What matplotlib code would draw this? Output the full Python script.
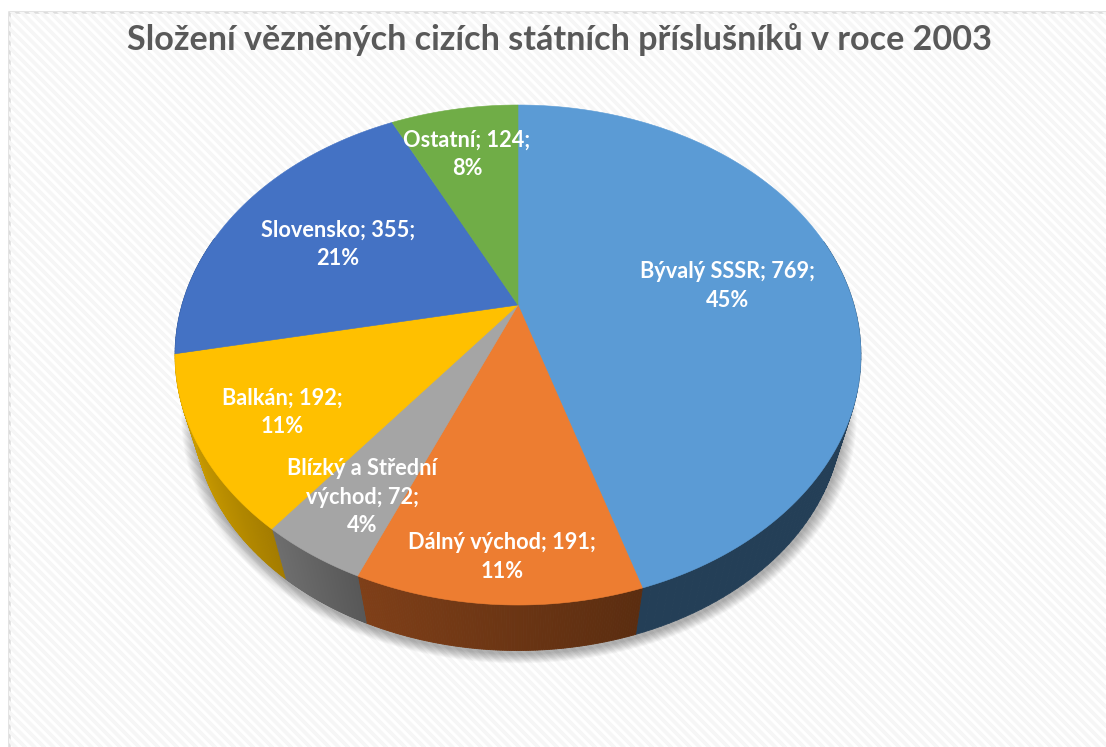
import numpy as np
import matplotlib
matplotlib.use("Agg")
import matplotlib.pyplot as plt
from matplotlib.collections import LineCollection, PolyCollection
from matplotlib.colors import to_rgb
from matplotlib.patches import Polygon, Rectangle

TITLE = "Složení vězněných cizích státních příslušníků v roce 2003"
categories = ["Bývalý SSSR", "Dálný východ", "Blízký a Střední\nvýchod", "Balkán", "Slovensko", "Ostatní"]
values = [769, 191, 72, 192, 355, 124]
percents = [45, 11, 4, 11, 21, 8]

top_colors = ["#5b9bd5", "#ed7d31", "#a5a5a5", "#ffc000", "#4472c4", "#70ad47"]
side_left = ["#243f57", "#7f3f18", "#6e6e6e", "#cb9c00", "#2a4a80", "#46702c"]
side_right = ["#243f57", "#5b2d10", "#585858", "#a47c00", "#2a4a80", "#46702c"]

# label centres in pixels
label_pos = [(728, 286), (502, 557), (362, 497), (282, 412), (338, 244), (467, 154)]

# pie geometry in pixels, perspective view of a circle
APEX_X, APEX_Y = 518, 305
RX, RY, K = 336, 240, 0.2
DEPTH_Y, DEPTH_S = 367, 0.945


def project(theta):
    # theta runs clockwise from twelve o'clock
    u, v = np.sin(theta), np.cos(theta)
    d = 1 + K * v
    return APEX_X + RX * u / d, APEX_Y - RY * v / d


def lower(x, y):
    return APEX_X + DEPTH_S * (x - APEX_X), DEPTH_Y + DEPTH_S * (y - APEX_Y)


fig = plt.figure(figsize=(11.06, 7.47), dpi=100)
ax = fig.add_axes([0, 0, 1, 1])
ax.set_xlim(0, 1106)
ax.set_ylim(747, 0)
ax.axis("off")

# striped chart area with thin border
frame = Rectangle((8.5, 12), 1110, 750, fc="white", ec="#dcdcdc", lw=1.8, zorder=1)
ax.add_patch(frame)
offsets = np.arange(-760, 1110, 9.5)
stripes = LineCollection([[(o, 0), (o + 750, 750)] for o in offsets],
                         colors="#f6f6f6", linewidths=2.6, zorder=1.1)
ax.add_collection(stripes)
stripes.set_clip_path(frame)

total = sum(values)
edges = 2 * np.pi * np.concatenate([[0], np.cumsum(values)]) / total
circle = np.linspace(0, 2 * np.pi, 721)

# soft shadow under the rim
cx, cy = project(circle)
bx, by = lower(cx, cy)
for i in range(14):
    grow = 1 + (14 - i) * 0.0030
    sx = APEX_X + grow * (bx - APEX_X) + 1
    sy = 417 + grow * (by - 417) + 3
    ax.add_patch(Polygon(np.c_[sx, sy], fc="black", ec="none", alpha=0.024, zorder=2))

# rim, only the front part is seen
for i in range(len(values)):
    th = np.linspace(edges[i], edges[i + 1], 120)
    th = th[(th > np.pi / 2 - 0.3) & (th < 3 * np.pi / 2 + 0.3)]
    if len(th) < 2:
        continue
    x, y = project(th)
    xb, yb = lower(x, y)
    quads, cols = [], []
    c0, c1 = np.array(to_rgb(side_left[i])), np.array(to_rgb(side_right[i]))
    span = max(x.max() - x.min(), 1)
    for j in range(len(th) - 1):
        quads.append([(x[j], y[j]), (x[j + 1], y[j + 1]), (xb[j + 1], yb[j + 1]), (xb[j], yb[j])])
        t = (x[j] - x.min()) / span
        cols.append(tuple(c0 + (c1 - c0) * t))
    ax.add_collection(PolyCollection(quads, facecolors=cols, edgecolors=cols, linewidths=0.6, zorder=3))

# top face
for i in range(len(values)):
    th = np.linspace(edges[i], edges[i + 1], 200)
    x, y = project(th)
    pts = np.r_[[[APEX_X, APEX_Y]], np.c_[x, y]]
    ax.add_patch(Polygon(pts, fc=top_colors[i], ec=top_colors[i], lw=0.4, zorder=4))

for name, val, pct, (lx, ly) in zip(categories, values, percents, label_pos):
    ax.text(lx, ly, f"{name}; {val};\n{pct}%", ha="center", va="center", color="white",
            family="Lato", fontweight="bold", fontsize=15.7, linespacing=1.42, zorder=5)

ax.text(559.5, 39.5, TITLE, ha="center", va="center", color="#595959", family="Lato",
        fontweight="bold", fontsize=24.6, zorder=5)

plt.savefig("out.png", dpi=100)
plt.close()
